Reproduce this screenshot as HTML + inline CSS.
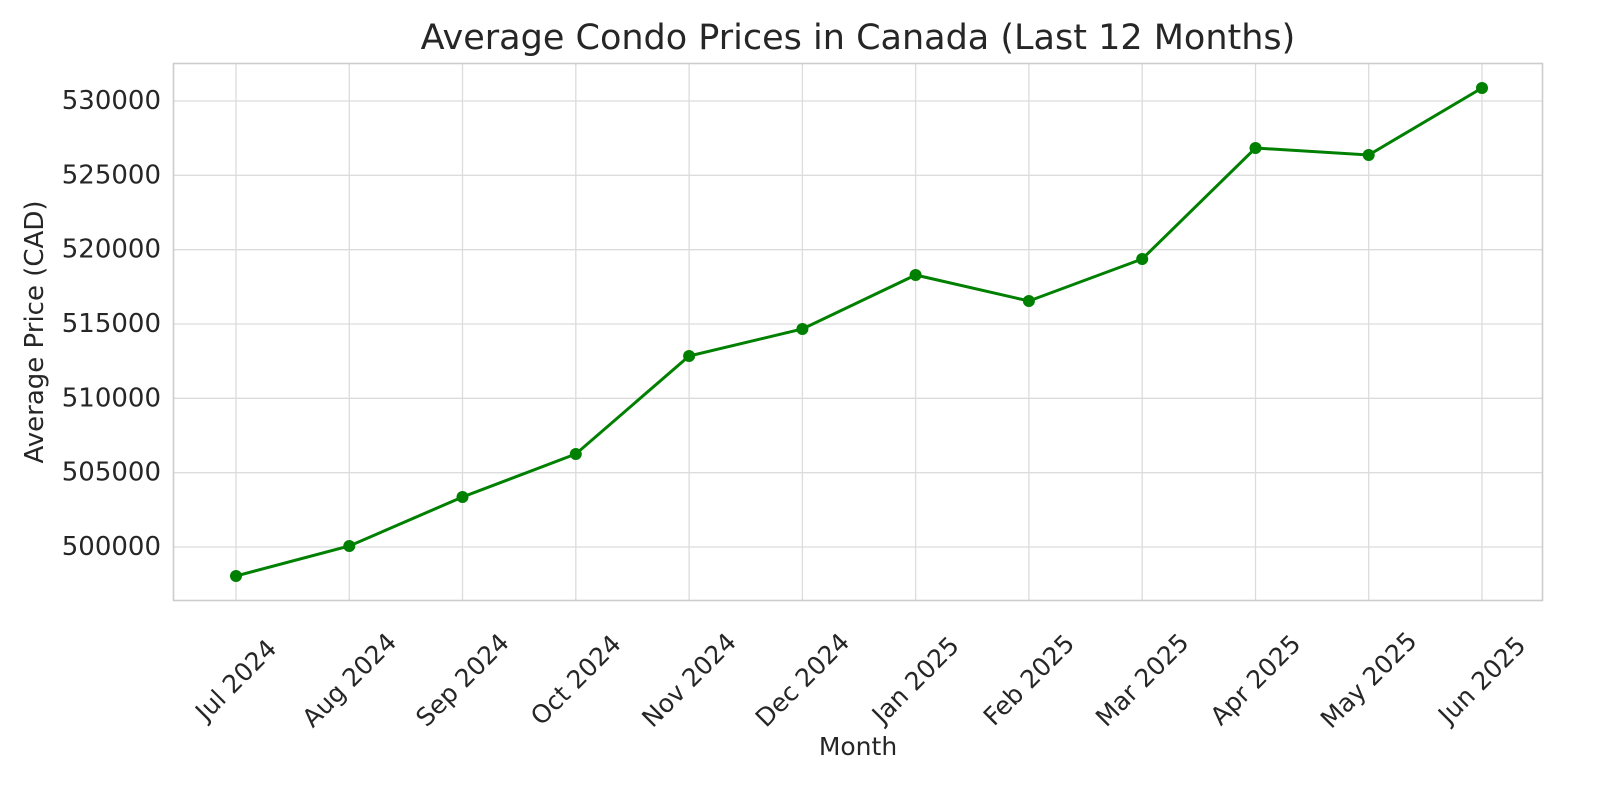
<!DOCTYPE html>
<html><head><meta charset="utf-8"><style>body{margin:0;background:#fff}svg{display:block}</style></head>
<body>
<svg width="1600" height="800" xmlns="http://www.w3.org/2000/svg" font-family="DejaVu Sans, Liberation Sans, sans-serif" fill="#262626">
<rect width="1600" height="800" fill="#fff"/>
<g stroke="#dcdcdc" stroke-width="1.3">
<line x1="174" x2="1542" y1="101" y2="101"/><line x1="174" x2="1542" y1="175.3" y2="175.3"/><line x1="174" x2="1542" y1="249.7" y2="249.7"/><line x1="174" x2="1542" y1="324" y2="324"/><line x1="174" x2="1542" y1="398.3" y2="398.3"/><line x1="174" x2="1542" y1="472.7" y2="472.7"/><line x1="174" x2="1542" y1="547" y2="547"/>
<line y1="64" y2="600" x1="236" x2="236"/><line y1="64" y2="600" x1="349.3" x2="349.3"/><line y1="64" y2="600" x1="462.5" x2="462.5"/><line y1="64" y2="600" x1="575.8" x2="575.8"/><line y1="64" y2="600" x1="689.1" x2="689.1"/><line y1="64" y2="600" x1="802.4" x2="802.4"/><line y1="64" y2="600" x1="915.6" x2="915.6"/><line y1="64" y2="600" x1="1028.9" x2="1028.9"/><line y1="64" y2="600" x1="1142.2" x2="1142.2"/><line y1="64" y2="600" x1="1255.5" x2="1255.5"/><line y1="64" y2="600" x1="1368.7" x2="1368.7"/><line y1="64" y2="600" x1="1482" x2="1482"/>
</g>
<rect x="173.5" y="63.5" width="1369" height="537" fill="none" stroke="#cccccc" stroke-width="1.6"/>
<polyline fill="none" stroke="#008000" stroke-width="3" points="236,576 349.3,546 462.5,497 575.8,454 689.1,356 802.4,329 915.6,275 1028.9,301 1142.2,259 1255.5,148 1368.7,155 1482,88"/>
<g fill="#008000">
<circle cx="236" cy="576" r="6"/><circle cx="349.3" cy="546" r="6"/><circle cx="462.5" cy="497" r="6"/><circle cx="575.8" cy="454" r="6"/><circle cx="689.1" cy="356" r="6"/><circle cx="802.4" cy="329" r="6"/><circle cx="915.6" cy="275" r="6"/><circle cx="1028.9" cy="301" r="6"/><circle cx="1142.2" cy="259" r="6"/><circle cx="1255.5" cy="148" r="6"/><circle cx="1368.7" cy="155" r="6"/><circle cx="1482" cy="88" r="6"/>
</g>
<g font-size="26" text-anchor="end" dominant-baseline="central">
<text x="161" y="101">530000</text><text x="161" y="175.3">525000</text><text x="161" y="249.7">520000</text><text x="161" y="324">515000</text><text x="161" y="398.3">510000</text><text x="161" y="472.7">505000</text><text x="161" y="547">500000</text>
</g>
<g font-size="25" text-anchor="middle" dominant-baseline="central">
<text transform="translate(236,680) rotate(-45)">Jul 2024</text>
<text transform="translate(349.3,680) rotate(-45)">Aug 2024</text>
<text transform="translate(462.5,680) rotate(-45)">Sep 2024</text>
<text transform="translate(575.8,680) rotate(-45)">Oct 2024</text>
<text transform="translate(689.1,680) rotate(-45)">Nov 2024</text>
<text transform="translate(802.4,680) rotate(-45)">Dec 2024</text>
<text transform="translate(915.6,680) rotate(-45)">Jan 2025</text>
<text transform="translate(1028.9,680) rotate(-45)">Feb 2025</text>
<text transform="translate(1142.2,680) rotate(-45)">Mar 2025</text>
<text transform="translate(1255.5,680) rotate(-45)">Apr 2025</text>
<text transform="translate(1368.7,680) rotate(-45)">May 2025</text>
<text transform="translate(1482,680) rotate(-45)">Jun 2025</text>
</g>
<text x="858" y="755" font-size="25" text-anchor="middle">Month</text>
<text transform="translate(43,332) rotate(-90)" font-size="26" text-anchor="middle">Average Price (CAD)</text>
<text x="858" y="49" font-size="35" text-anchor="middle">Average Condo Prices in Canada (Last 12 Months)</text>
</svg>
</body></html>
